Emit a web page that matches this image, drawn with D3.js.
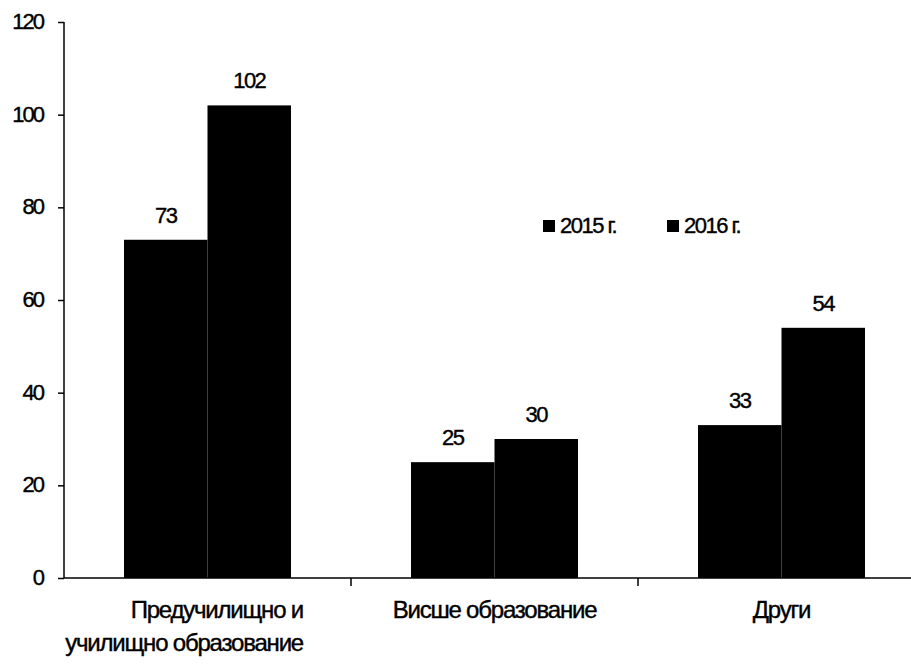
<!DOCTYPE html>
<html lang="bg">
<head>
<meta charset="UTF-8">
<title>Chart</title>
<script src="https://d3js.org/d3.v7.min.js"></script>
<style>
    body { margin: 0; background: #fff; }
    text { font-family: "Liberation Sans", Arial, sans-serif; fill: #000; stroke: #000; stroke-width: 0.4px; }
    .axis path, .axis line { stroke: #000; stroke-width: 1.5; fill: none; }
    .axis text { font-size: 22px; letter-spacing: -2px; }
</style>
</head>
<body>
<div id="chart"></div>
<script>
    // data
    var categories = ["Предучилищно и|училищно образование", "Висше образование", "Други"];
    var years = ["2015 г.", "2016 г."];
    var values2015 = [73, 25, 33];
    var values2016 = [102, 30, 54];
    var yTicks = [0, 20, 40, 60, 80, 100, 120];

    var W = 911, H = 665;
    var margin = { top: 22, right: -14, bottom: 87, left: 64 },
        width = W - margin.left - margin.right,
        height = H - margin.top - margin.bottom;

    var svg = d3.select("#chart").append("svg")
        .attr("width", W).attr("height", H)
        .append("g")
        .attr("transform", "translate(" + margin.left + "," + margin.top + ")");

    var x0 = d3.scaleBand().domain(categories).range([0, width]).paddingInner(0).paddingOuter(0);
    var x1 = d3.scaleBand().domain(years).range([60, x0.bandwidth() - 60]);
    var y = d3.scaleLinear().domain([0, 120]).range([height, 0]);

    var rows = categories.map(function (c, i) {
        return { cat: c, vals: [{ year: years[0], v: values2015[i] }, { year: years[1], v: values2016[i] }] };
    });

    // y axis
    var yAxis = svg.append("g").attr("class", "axis")
        .call(d3.axisLeft(y).tickValues(yTicks).tickSize(6).tickPadding(15));
    yAxis.select(".domain").attr("d", "M0," + height + "V0");
    yAxis.selectAll("text").attr("dy", "0.3em");

    // bars
    var groups = svg.selectAll(".grp").data(rows).enter().append("g")
        .attr("transform", function (d) { return "translate(" + x0(d.cat) + ",0)"; });

    groups.selectAll("rect").data(function (d) { return d.vals; }).enter().append("rect")
        .attr("x", function (d) { return x1(d.year); })
        .attr("width", x1.bandwidth())
        .attr("y", function (d) { return y(d.v); })
        .attr("height", function (d) { return height - y(d.v); })
        .attr("fill", "#000");

    groups.selectAll(".lbl").data(function (d) { return d.vals; }).enter().append("text")
        .attr("class", "lbl")
        .attr("x", function (d) { return x1(d.year) + x1.bandwidth() / 2; })
        .attr("y", function (d) { return y(d.v) - 17; })
        .attr("text-anchor", "middle")
        .style("font-size", "22px")
        .style("letter-spacing", "-1.5px")
        .text(function (d) { return d.v; });

    // x axis
    var xAxis = svg.append("g").attr("class", "axis")
        .attr("transform", "translate(0," + height + ")")
        .call(d3.axisBottom(x0).tickValues([]).tickSizeOuter(0));
    xAxis.select(".domain").attr("d", "M0,0H" + width);
    [categories[1], categories[2]].forEach(function (c) {
        xAxis.append("line").attr("x1", x0(c)).attr("x2", x0(c)).attr("y1", 0).attr("y2", 8);
    });
    categories.forEach(function (c) {
        var parts = c.split("|");
        var t = xAxis.append("text")
            .attr("y", 40)
            .attr("text-anchor", parts.length > 1 ? "end" : "middle")
            .style("font-size", "24px")
            .style("letter-spacing", "-1.2px");
        parts.forEach(function (part, i) {
            t.append("tspan")
                .attr("x", parts.length > 1 ? x0(c) + x1.range()[1] + 12 : x0(c) + x0.bandwidth() / 2)
                .attr("dy", i ? 33 : 0).text(part);
        });
    });

    // legend
    var legend = svg.selectAll(".legend").data(years).enter().append("g")
        .attr("transform", function (d, i) { return "translate(" + (479 + i * 124) + ",198)"; });
    legend.append("rect").attr("width", 12).attr("height", 12).attr("fill", "#000");
    legend.append("text").attr("x", 17).attr("y", 13)
        .style("font-size", "22px").style("letter-spacing", "-1.5px")
        .text(function (d) { return d; });
</script>
</body>
</html>
